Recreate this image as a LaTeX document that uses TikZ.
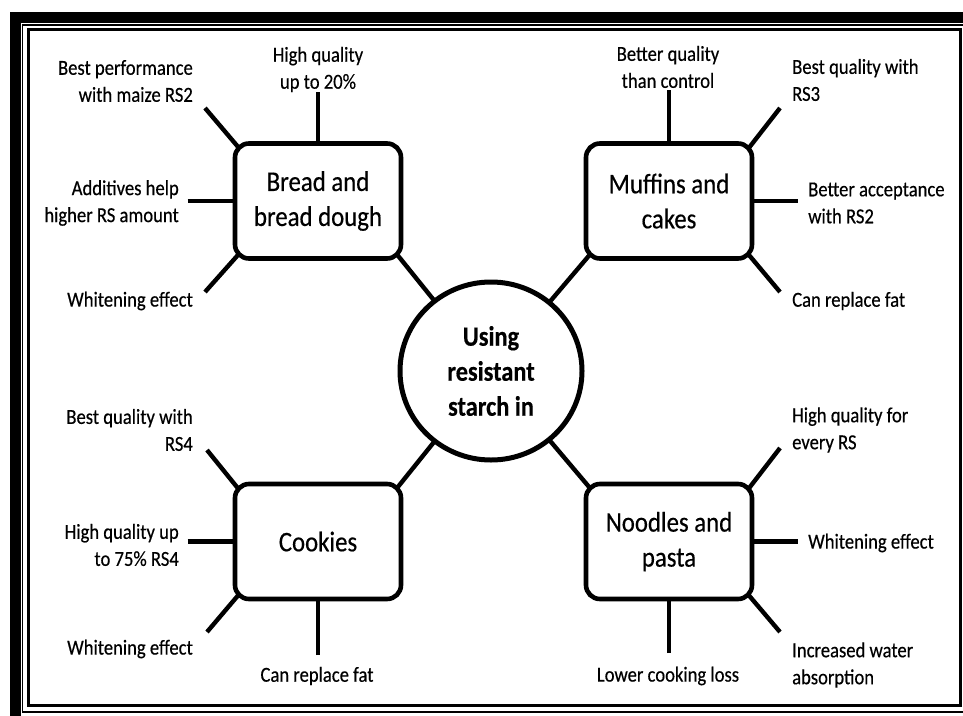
\documentclass[tikz,border=0pt]{standalone}
\usepackage{fontspec}
\setmainfont{Carlito}
\newfontfamily\tallfam[FakeStretch=0.87,FakeBold=0.4]{Carlito}
\newfontfamily\tallbold[FakeStretch=0.87,FakeBold=0.4]{Carlito Bold}
\usetikzlibrary{shapes.geometric}
\pgfdeclarelayer{background}
\pgfsetlayers{background,main}
\newcommand\labfont{\tallfam\fontsize{21.4}{27}\selectfont}
\newcommand\boxfont{\tallfam\fontsize{28.5}{35}\selectfont}
\newcommand\hubfont{\tallbold\fontsize{28}{35}\selectfont}
\begin{document}
\begin{tikzpicture}[x=1pt,y=-1pt,
  box/.style={draw, line width=4.6pt, rounded corners=14pt, fill=white,
    minimum width=166pt, minimum height=115pt, align=center, inner sep=0pt, font=\boxfont},
  hub/.style={ellipse, draw, line width=5pt, fill=white,
    minimum width=182pt, minimum height=178pt, inner sep=0pt, align=center, font=\hubfont},
  spoke/.style={line width=4.4pt},
  lab/.style={inner sep=0pt, font=\labfont},
  labl/.style={lab, anchor=west, align=left},
  labr/.style={lab, anchor=east, align=right},
  labc/.style={lab, anchor=center, align=center}]
\useasboundingbox (0,0) rectangle (963,715);
\clip (0,0) rectangle (963,715);
% frame
\draw[line width=11pt] (15.5,17.5) rectangle (1000,760);
\draw[line width=1.4pt] (22.6,24.8) rectangle (964.5,711.8);
\draw[line width=3pt] (28.4,29.5) rectangle (960,705);

% nodes
\node[hub] (hub) at (491,371) {Using\\resistant\\starch in};
\node[box] (bread) at (318,201) {Bread and\\bread dough};
\node[box] (muffins) at (669,201) {Muffins and\\cakes};
\node[box] (cookies) at (318,541.5) {Cookies};
\node[box] (noodles) at (669,541.5) {Noodles and\\pasta};

% labels
\node[labc] (b1) at (318,69.5) {High quality\\up to 20\%};
\node[labr] (b2) at (193,81) {Best performance\\with maize RS2};
\node[labr] (b3) at (179,203) {Additives help\\higher RS amount};
\node[labr] (b4) at (193,301) {Whitening effect};

\node[labc] (m1) at (668,67) {Better quality\\than control};
\node[labl] (m2) at (792,80) {Best quality with\\RS3};
\node[labl] (m3) at (808,203) {Better acceptance\\with RS2};
\node[labl] (m4) at (792,301) {Can replace fat};

\node[labl] (n1) at (792,430) {High quality for\\every RS};
\node[labl] (n2) at (808,543) {Whitening effect};
\node[labl] (n3) at (792,665) {Increased water\\absorption};
\node[labc] (n4) at (668,676) {Lower cooking loss};

\node[labr] (c1) at (193,430) {Best quality with\\RS4};
\node[labr] (c2) at (179,545) {High quality up\\to 75\% RS4};
\node[labr] (c3) at (193,649) {Whitening effect};
\node[labc] (c4) at (317,676) {Can replace fat};

% free ends of spokes
\coordinate (eb1) at (318,92);
\coordinate (eb2) at (205,108);
\coordinate (eb4) at (205,292);
\coordinate (em1) at (669,90);
\coordinate (em2) at (780,108);
\coordinate (em4) at (780,292);
\coordinate (en1) at (780,448);
\coordinate (en3) at (780,632);
\coordinate (en4) at (669,653);
\coordinate (ec1) at (207,450);
\coordinate (ec3) at (207,632);
\coordinate (ec4) at (318,655);

\begin{pgfonlayer}{background}
% bread
\draw[spoke] (eb1) -- (bread.north);
\draw[spoke] (eb2) -- ([shift={(9,10)}]bread.north west);
\draw[spoke] ([shift={(-45,0)}]bread.west) -- (bread.west);
\draw[spoke] (eb4) -- ([shift={(9,-10)}]bread.south west);
\draw[spoke] ([shift={(-6,-6)}]bread.south east) -- (hub.center);
% muffins
\draw[spoke] (em1) -- (muffins.north);
\draw[spoke] (em2) -- ([shift={(-8,10)}]muffins.north east);
\draw[spoke] (muffins.east) -- ([shift={(44,0)}]muffins.east);
\draw[spoke] (em4) -- ([shift={(-8,-9)}]muffins.south east);
\draw[spoke] ([shift={(6,-6)}]muffins.south west) -- (hub.center);
% noodles
\draw[spoke] (en1) -- ([shift={(-8,10)}]noodles.north east);
\draw[spoke] (noodles.east) -- ([shift={(44,0)}]noodles.east);
\draw[spoke] (en3) -- ([shift={(-8,-9)}]noodles.south east);
\draw[spoke] (en4) -- (noodles.south);
\draw[spoke] ([shift={(6,6)}]noodles.north west) -- (hub.center);
% cookies
\draw[spoke] (ec1) -- ([shift={(8,10)}]cookies.north west);
\draw[spoke] ([shift={(-45,0)}]cookies.west) -- (cookies.west);
\draw[spoke] (ec3) -- ([shift={(8,-9)}]cookies.south west);
\draw[spoke] (ec4) -- (cookies.south);
\draw[spoke] ([shift={(-6,6)}]cookies.north east) -- (hub.center);
\end{pgfonlayer}
\end{tikzpicture}
\end{document}
